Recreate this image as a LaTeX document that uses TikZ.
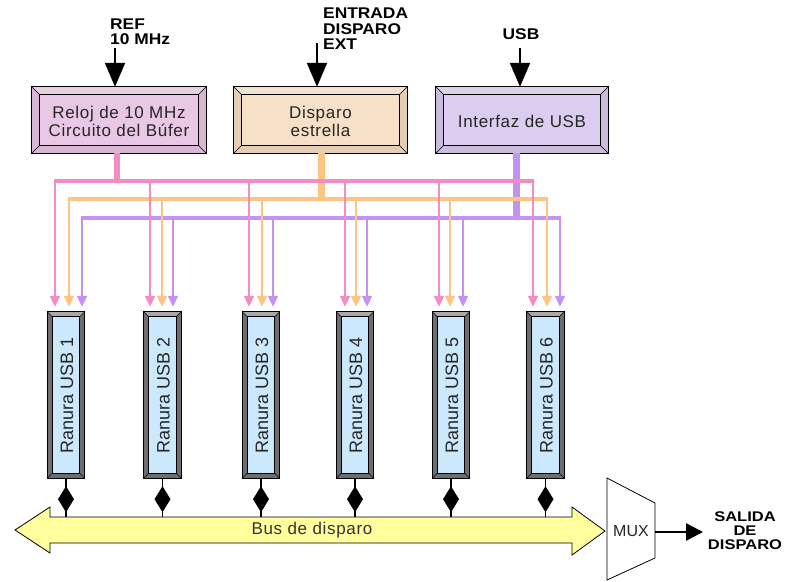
\documentclass[tikz,border=0pt]{standalone}
\usepackage{fontspec}
\setmainfont{Liberation Sans}
\usetikzlibrary{arrows.meta}
\definecolor{pk}{HTML}{F48CC4}
\definecolor{tn}{HTML}{FFC484}
\definecolor{pu}{HTML}{C492F2}
\definecolor{pkbox}{HTML}{E8C8E4}
\definecolor{pkbev}{HTML}{D8B6D4}
\definecolor{pkbevt}{HTML}{E6D0E2}
\definecolor{tnbox}{HTML}{F6E0C8}
\definecolor{tnbev}{HTML}{E6CEB6}
\definecolor{tnbevt}{HTML}{F0E2D2}
\definecolor{pubox}{HTML}{DCCCF0}
\definecolor{pubev}{HTML}{CABCDC}
\definecolor{pubevt}{HTML}{DCD2E8}
\definecolor{slotin}{HTML}{CCE8FC}
\definecolor{slotside}{HTML}{6E6E6E}
\definecolor{slottop}{HTML}{A8A8A8}
\definecolor{busy}{HTML}{FFFF9E}
\newcommand\bevbox[9]{% name, cx, cy, w, h, d, topcol, sidecol, innercol
  \node[fill=#8,minimum width=#4pt,minimum height=#5pt,inner sep=0pt] (#1) at (#2,#3) {};
  \node[minimum width={#4pt-2*#6pt},minimum height={#5pt-2*#6pt},inner sep=0pt] (#1-in) at (#2,#3) {};
  \fill[#7] (#1.north west) -- (#1.north east) -- (#1-in.north east) -- (#1-in.north west) -- cycle;
  \draw[line width=0.6pt] (#1.north west) -- (#1-in.north west) (#1.north east) -- (#1-in.north east)
        (#1.south west) -- (#1-in.south west) (#1.south east) -- (#1-in.south east);
  \draw[line width=1pt,fill=#9] (#1-in.north west) rectangle (#1-in.south east);
  \draw[line width=1pt] (#1.north west) rectangle (#1.south east);
}
\tikzset{
  lbl/.style={font=\bfseries\fontsize{15.5}{15.5}\selectfont\addfontfeature{FakeStretch=1.12},inner sep=0pt,align=left},
  boxtxt/.style={font=\fontsize{17}{18}\selectfont\addfontfeature{LetterSpace=4},inner sep=0pt,align=center,text=black!85},
  slottxt/.style={font=\fontsize{18}{18}\selectfont,inner sep=0pt,rotate=90,text=black!85},
  inarrow/.style={line width=2.2pt,-{Triangle[width=20pt,length=24pt]}},
  trunk/.style={line width=6.5pt},
  hbus/.style={line width=4pt},
  drop/.style={line width=2pt,-{Triangle[width=10pt,length=11pt]},shorten >=5pt},
}
\begin{document}
\begin{tikzpicture}[x=1pt,y=-1pt]
\useasboundingbox (0,0) rectangle (799,581);
\fill[white] (0,0) rectangle (799,581);

% top boxes
\bevbox{clk}{119}{120}{174}{66}{8}{pkbevt}{pkbev}{pkbox}
\bevbox{trg}{320.5}{120}{173}{66}{8}{tnbevt}{tnbev}{tnbox}
\bevbox{usbi}{522}{120}{172}{66}{8}{pubevt}{pubev}{pubox}
\node[boxtxt] (clkt) at (119,121) {Reloj de 10 MHz\\Circuito del Búfer};
\node[boxtxt] (trgt) at (320.5,121) {Disparo\\estrella};
\node[boxtxt] (usbt) at (522,121) {Interfaz de USB};

% input labels and arrows
\node[lbl,anchor=north west] (ref) at (110,18.5) {REF\\10 MHz};
\node[lbl,anchor=north west] (ent) at (323,8) {ENTRADA\\DISPARO\\EXT};
\node[lbl,anchor=north] (usbl) at (521,28) {USB};
\coordinate (refin) at (115,48);
\coordinate (entin) at (317,43);
\coordinate (usbin) at (520,48);
\draw[inarrow] (refin) -- (refin |- clk.north);
\draw[inarrow] (entin) -- (entin |- trg.north);
\draw[inarrow] (usbin) -- (usbin |- usbi.north);

% slots
\foreach \n/\x in {1/66,2/162.5,3/261,4/355,5/451,6/545.5}{
  \bevbox{s\n}{\x}{395}{37}{166}{5}{slottop}{slotside}{slotin}
  \node[slottxt] (s\n t) at (\x+1,395) {Ranura USB \n};
}

% distribution lines
\draw[pk,trunk] (clk.south -| 117,0) -- (117,181);
\draw[tn,trunk,line width=7pt] (trg.south -| 321,0) -- (321,199);
\draw[pu,trunk,line width=7pt] (usbi.south -| 516,0) -- (516,218);
\draw[pk,hbus] (54,181) -- (534,181);
\draw[tn,hbus] (68,199) -- (548,199);
\draw[pu,hbus] (81,218) -- (561,218);
\foreach \p/\t/\u/\s in {55/69/82/1,150/162/173/2,249/262/273/3,345/356/367/4,439/450/463/5,533/547/560/6}{
  \draw[pk,drop] (\p,181) -- (\p,0 |- s\s.north);
  \draw[tn,drop] (\t,199) -- (\t,0 |- s\s.north);
  \draw[pu,drop] (\u,218) -- (\u,0 |- s\s.north);
}

% trigger bus
\draw[line width=0.8pt,fill=busy] (15,530) -- (50,507) -- (50,517) -- (572,517) -- (572,507)
  -- (605,531) -- (572,555) -- (572,543) -- (50,543) -- (50,553) -- cycle;
\node[boxtxt,text=black!80] (bus) at (312,530.5) {Bus de disparo};
\coordinate (bustop) at (0,517);
\foreach \s in {1,...,6}{
  \draw[line width=1.2pt] (s\s.south) -- (s\s.south |- bustop);
  \fill ([yshift=-8pt]s\s.south) -- ++(8pt,-13pt) -- ++(-8pt,-13pt) -- ++(-8pt,13pt) -- cycle;
}

% MUX
\draw[line width=0.8pt,fill=white] (607,478) -- (655,503) -- (655,558) -- (607,580) -- cycle;
\node[font=\fontsize{16}{16}\selectfont,inner sep=0pt,text=black!85] (mux) at (631,531) {MUX};
\coordinate (muxout) at (655,532);
\coordinate (salin) at (703,532);
\draw[line width=2.5pt,-{Triangle[width=17pt,length=17pt]}] (muxout) -- (salin);
\node[lbl,align=center,anchor=north,font=\bfseries\fontsize{14}{14}\selectfont\addfontfeature{FakeStretch=1.18}] (sal) at (745,512) {SALIDA\\DE\\DISPARO};
\end{tikzpicture}
\end{document}
